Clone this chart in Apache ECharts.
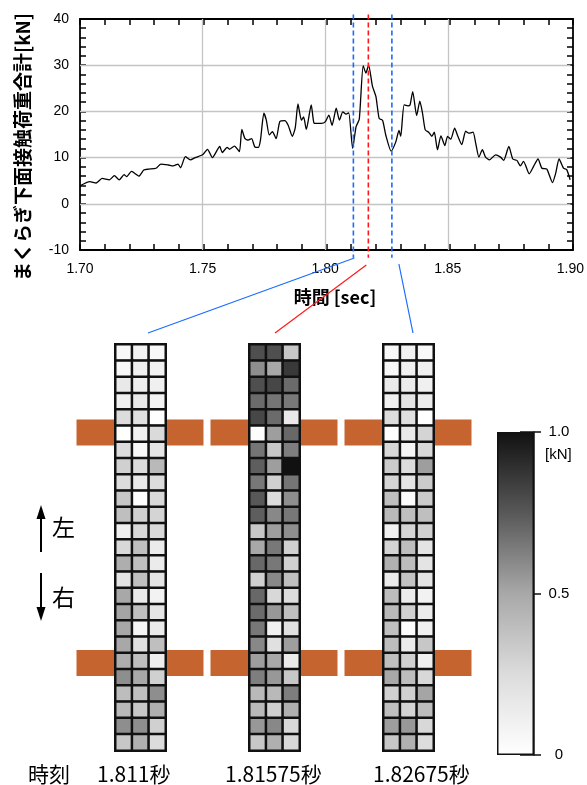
<!DOCTYPE html>
<html>
<head>
<meta charset="utf-8">
<script src="https://cdn.jsdelivr.net/npm/echarts@6/dist/echarts.min.js"></script>
<style>
  html, body { margin: 0; padding: 0; background: #fff; }
  .layer { position: absolute; left: 0; top: 0; width: 587px; height: 785px; }
</style>
</head>
<body>
<div id="heat" class="layer"></div>
<div id="main" class="layer"></div>
<script>
// 荷重合計の時刻歴 [sec, kN]
const times = [
  1.700, 1.704, 1.7066, 1.709, 1.712, 1.714, 1.716, 1.718, 1.719, 1.721,
  1.724, 1.726, 1.728, 1.731, 1.733, 1.736, 1.738, 1.740, 1.741, 1.743,
  1.745, 1.747, 1.750, 1.752, 1.754, 1.757, 1.758, 1.760, 1.761, 1.763,
  1.765, 1.766, 1.7673, 1.7686, 1.770, 1.7713, 1.7727, 1.7736, 1.775, 1.776,
  1.7772, 1.7785, 1.780, 1.7815, 1.7835, 1.7849, 1.7866, 1.7878, 1.7889, 1.7903,
  1.7912, 1.7923, 1.7943, 1.7954, 1.7966, 1.7984, 1.8001, 1.8015, 1.8028, 1.8045,
  1.8058, 1.8072, 1.8085, 1.8096, 1.8112, 1.8126, 1.8139, 1.8155, 1.8166, 1.8177,
  1.8193, 1.8207, 1.822, 1.8234, 1.8247, 1.8269, 1.8288, 1.8301, 1.8308, 1.8322,
  1.8338, 1.8346, 1.8357, 1.8373, 1.8386, 1.8397, 1.8408, 1.8422, 1.8435, 1.8445,
  1.8458, 1.8472, 1.8488, 1.8499, 1.8512, 1.8528, 1.8539, 1.8557, 1.8573, 1.8586,
  1.8603, 1.8614, 1.8627, 1.8641, 1.8654, 1.867, 1.8695, 1.8715, 1.8728, 1.8749,
  1.8765, 1.8782, 1.8796, 1.8809, 1.8832, 1.885, 1.8868, 1.8884, 1.8904, 1.8927,
  1.894, 1.8954, 1.8972, 1.8985, 1.8999
]
const loads = [
  3.9, 4.8, 4.5, 5.5, 5.2, 6.1, 5.2, 6.3, 5.9, 7.0,
  6.0, 7.3, 7.5, 7.7, 8.6, 8.4, 8.2, 8.6, 7.8, 10.2,
  9.5, 10.0, 10.6, 11.8, 10.0, 12.4, 11.1, 12.2, 11.8, 12.5,
  11.3, 16.1, 14.1, 13.8, 14.1, 12.3, 12.2, 13.8, 19.6, 18.1,
  14.9, 15.6, 14.1, 17.8, 18.0, 17.0, 14.6, 16.5, 21.6, 18.1,
  18.8, 16.1, 21.4, 17.5, 17.4, 17.4, 17.8, 19.2, 17.0, 20.7,
  18.1, 19.9, 19.4, 19.7, 12.0, 16.7, 18.3, 29.9, 28.3, 30.0,
  25.4, 23.2, 18.5, 18.1, 14.9, 11.4, 13.4, 15.9, 14.6, 21.4,
  21.2, 21.4, 24.3, 19.1, 22.2, 19.6, 16.0, 15.5, 14.6, 15.5,
  11.7, 14.7, 12.6, 14.6, 14.0, 16.4, 14.9, 12.8, 15.7, 15.3,
  15.5, 13.1, 10.1, 11.7, 10.1, 9.5, 10.6, 10.1, 9.4, 12.4,
  9.7, 9.4, 8.2, 9.2, 6.5, 8.1, 9.7, 7.7, 7.5, 4.6,
  6.6, 9.7, 7.7, 7.4, 5.2
]
// 破線の位置（図上の位置）
const markTimes = [1.8115, 1.8176, 1.8272]
const markColors = ['#1a6cff', '#ff1a1a', '#1a6cff']
// 内側のグリッド線
const xGrid = [1.75, 1.80, 1.85]
const yGrid = [0, 10, 20, 30]

// 各まくらぎの接触荷重分布 [kN]（上→下 25行 × 3列）
const h1 = [
  [0.05, 0.09, 0.05], [0.05, 0.11, 0.09], [0.16, 0.12, 0.11], [0.11, 0.16, 0.08], [0.25, 0.22, 0.00],
  [0.00, 0.11, 0.26], [0.25, 0.05, 0.19], [0.31, 0.25, 0.42], [0.25, 0.16, 0.25], [0.35, 0.01, 0.27],
  [0.39, 0.31, 0.29], [0.11, 0.27, 0.27], [0.27, 0.39, 0.14], [0.47, 0.39, 0.14], [0.19, 0.39, 0.19],
  [0.50, 0.16, 0.09], [0.51, 0.39, 0.18], [0.50, 0.08, 0.14], [0.50, 0.22, 0.39], [0.47, 0.39, 0.12],
  [0.58, 0.50, 0.31], [0.40, 0.39, 0.58], [0.42, 0.35, 0.47], [0.58, 0.58, 0.31], [0.35, 0.46, 0.25]
]
const h2 = [
  [0.78, 0.78, 0.35], [0.58, 0.50, 0.86], [0.78, 0.81, 0.69], [0.69, 0.66, 0.65], [0.81, 0.69, 0.16],
  [0.02, 0.53, 0.70], [0.66, 0.35, 0.63], [0.73, 0.53, 1.00], [0.65, 0.31, 0.66], [0.75, 0.25, 0.58],
  [0.73, 0.60, 0.65], [0.35, 0.53, 0.58], [0.50, 0.65, 0.31], [0.70, 0.65, 0.31], [0.31, 0.60, 0.39],
  [0.70, 0.27, 0.25], [0.69, 0.55, 0.39], [0.65, 0.11, 0.22], [0.60, 0.22, 0.53], [0.53, 0.50, 0.14],
  [0.63, 0.55, 0.35], [0.42, 0.42, 0.63], [0.42, 0.31, 0.46], [0.55, 0.60, 0.27], [0.35, 0.46, 0.27]
]
const h3 = [
  [0.05, 0.09, 0.05], [0.05, 0.11, 0.11], [0.16, 0.14, 0.11], [0.11, 0.19, 0.14], [0.25, 0.22, 0.00],
  [0.00, 0.16, 0.29], [0.27, 0.08, 0.27], [0.33, 0.25, 0.53], [0.29, 0.19, 0.33], [0.39, 0.02, 0.33],
  [0.42, 0.39, 0.39], [0.11, 0.29, 0.31], [0.29, 0.40, 0.19], [0.46, 0.40, 0.19], [0.14, 0.37, 0.19],
  [0.40, 0.14, 0.09], [0.42, 0.31, 0.14], [0.39, 0.02, 0.11], [0.40, 0.14, 0.35], [0.39, 0.31, 0.11],
  [0.50, 0.40, 0.27], [0.31, 0.31, 0.51], [0.39, 0.29, 0.40], [0.53, 0.55, 0.27], [0.35, 0.46, 0.25]
]
const heatLabels = ['1.811秒', '1.81575秒', '1.82675秒']
// カラーバー 0 → 1.0
const grayStops = ['#ffffff', '#dcdcdc', '#a8a8a8', '#585858', '#111111']

const cols = ['a', 'b', 'c']
const rows = h1.map((_, i) => String(i + 1))
const toCells = m => m.flatMap((r, i) => r.map((v, j) => [j, i, v]))

const heatLeft = [115.5, 249.5, 383.5]
const heatW = 50, heatTop = 344.5, heatH = 406
const railColor = '#c66430'
const jp = '"Noto Sans CJK JP", sans-serif'
const num = '"Liberation Sans", Arial, sans-serif'
const lineGrid = { left: 80, top: 19, width: 493, height: 231 }

// ---------- 下層：ヒートマップ＋カラーバー＋上段グラフの枠と目盛り ----------
const heat = echarts.init(document.getElementById('heat'))
const hGrids = heatLeft.map(l => ({ left: l, top: heatTop, width: heatW, height: heatH }))
hGrids.push({ left: 497, top: 432, width: 37, height: 323 })
hGrids.push({ ...lineGrid })
const hX = heatLeft.map((_, k) => ({ type: 'category', gridIndex: k, data: cols, show: false }))
const hY = heatLeft.map((_, k) => ({ type: 'category', gridIndex: k, data: rows, inverse: true, show: false }))
hX.push({ type: 'category', gridIndex: 3, data: ['bar'], show: false })
hY.push({
  type: 'value', gridIndex: 3, min: 0, max: 1, interval: 0.5, position: 'right',
  axisLine: { show: true, lineStyle: { color: '#111', width: 1.5 } },
  axisTick: { show: true, inside: false, length: 7, lineStyle: { color: '#111', width: 1.5 } },
  axisLabel: {
    formatter: v => v === 1 ? '1.0' : (v === 0 ? '0' : '0.5'),
    fontSize: 15, color: '#000', fontFamily: num, align: 'center', margin: 25,
  },
  splitLine: { show: false },
})
hY.push({
  type: 'value', gridIndex: 3, min: 0, max: 1, interval: 0.5, position: 'right',
  axisLine: { show: false },
  axisTick: { show: true, inside: true, length: 14, lineStyle: { color: '#111', width: 1.5 } },
  axisLabel: { show: false },
  splitLine: { show: false },
})
// 上段グラフの枠：目盛り間隔 0.01 / 2 の軸を四辺に
const frameX = pos => ({
  type: 'value', gridIndex: 4, min: 1.7, max: 1.9, interval: 0.01, position: pos,
  axisLine: { show: true, onZero: false, lineStyle: { color: '#000', width: 1.8 } },
  axisTick: { show: true, inside: true, length: 6, lineStyle: { color: '#000', width: 1.5 } },
  axisLabel: { show: false }, splitLine: { show: false },
})
const frameY = pos => ({
  type: 'value', gridIndex: 4, min: -10, max: 40, interval: 2, position: pos,
  axisLine: { show: true, onZero: false, lineStyle: { color: '#000', width: 1.8 } },
  axisTick: { show: true, inside: true, length: 6, lineStyle: { color: '#000', width: 1.5 } },
  axisLabel: { show: false }, splitLine: { show: false },
})
hX.push(frameX('bottom'), frameX('top'))
hY.push(frameY('left'), frameY('right'))

const hSeries = [h1, h2, h3].map((m, k) => ({
  type: 'heatmap', xAxisIndex: k, yAxisIndex: k,
  data: toCells(m),
  itemStyle: { borderColor: '#111', borderWidth: 2.5 },
  emphasis: { disabled: true },
}))
hSeries.push({
  type: 'bar', xAxisIndex: 3, yAxisIndex: 3, data: [1], barWidth: '100%', silent: true,
  itemStyle: {
    color: new echarts.graphic.LinearGradient(0, 0, 0, 1,
      grayStops.slice().reverse().map((c, i) => ({ offset: i / (grayStops.length - 1), color: c }))),
    borderColor: '#111', borderWidth: 1.5,
  },
})
// 枠用の軸を有効にするための空の系列
hSeries.push({ type: 'line', xAxisIndex: 4, yAxisIndex: 5, data: [], silent: true })
hSeries.push({ type: 'line', xAxisIndex: 5, yAxisIndex: 6, data: [], silent: true })

const railRects = []
heatLeft.forEach(l => {
  ;[419.5, 650].forEach(y => {
    railRects.push({ type: 'rect', shape: { x: l - 39, y: y, width: 39, height: 26 }, style: { fill: railColor }, z: 0 })
    railRects.push({ type: 'rect', shape: { x: l + heatW, y: y, width: 38, height: 26 }, style: { fill: railColor }, z: 0 })
  })
})
heat.setOption({
  animation: false,
  backgroundColor: '#fff',
  grid: hGrids, xAxis: hX, yAxis: hY,
  visualMap: { show: false, type: 'continuous', min: 0, max: 1, seriesIndex: [0, 1, 2], inRange: { color: grayStops } },
  series: hSeries,
  graphic: railRects,
})

// ---------- 上層：荷重合計の時刻歴 ----------
const chart = echarts.init(document.getElementById('main'))
const gridLine = () => ({ color: '#c4c4c4', width: 1.3, type: 'solid' })
chart.setOption({
  animation: false,
  grid: [{ ...lineGrid }],
  xAxis: [{
    type: 'value', min: 1.7, max: 1.9, interval: 0.05,
    axisLine: { show: false }, axisTick: { show: false },
    axisLabel: { formatter: v => v.toFixed(2), fontSize: 14, color: '#000', fontFamily: num, margin: 12 },
    splitLine: { show: false },
  }],
  yAxis: [{
    type: 'value', min: -10, max: 40, interval: 10,
    axisLine: { show: false }, axisTick: { show: false },
    axisLabel: { fontSize: 14, color: '#000', fontFamily: num, margin: 11 },
    splitLine: { show: false },
  }],
  series: [{
    type: 'line', showSymbol: false, smooth: 0.2, z: 3,
    data: times.map((t, i) => [t, loads[i]]),
    lineStyle: { color: '#000', width: 1.3 },
    markLine: {
      silent: true, symbol: ['none', 'none'], label: { show: false }, z: 1,
      data: [
        ...xGrid.map(t => ({ xAxis: t, lineStyle: gridLine() })),
        ...yGrid.map(v => ({ yAxis: v, lineStyle: gridLine() })),
      ],
    },
  }],
})

const px = t => chart.convertToPixel({ xAxisIndex: 0 }, t)
const py = v => chart.convertToPixel({ yAxisIndex: 0 }, v)

// 時刻の破線（枠より少しはみ出す）
const dashTop = py(41)
const dashBottom = py(-11.7)
const dashX = markTimes.map(px)
const dashes = dashX.map((x, i) => ({
  type: 'line', z: 25, shape: { x1: x, y1: dashTop, x2: x, y2: dashBottom },
  style: { stroke: markColors[i], lineWidth: 1.6, lineDash: [5, 3] },
}))
const connectors = [
  { from: [dashX[0] + 1, 258], to: [148, 333] },
  { from: [dashX[1] - 2, 265], to: [275, 333] },
  { from: [dashX[2] + 7, 264], to: [413, 333] },
].map((c, i) => ({
  type: 'line', z: 5, shape: { x1: c.from[0], y1: c.from[1], x2: c.to[0], y2: c.to[1] },
  style: { stroke: markColors[i], lineWidth: 1.2 },
}))
const txt = (x, y, text, font) => ({ type: 'text', x, y,
  style: { text, font, fill: '#000', align: 'left', verticalAlign: 'middle' } })
const texts = [
  { type: 'text', x: 23, y: 147, rotation: Math.PI / 2,
    style: { text: 'まくらぎ下面接触荷重合計[kN]', font: 'bold 19px ' + jp, fill: '#000', align: 'center', verticalAlign: 'middle' } },
  { type: 'text', x: 335, y: 297,
    style: { text: '時間 [sec]', font: 'bold 18px ' + jp, fill: '#000', align: 'center', verticalAlign: 'middle' } },
  txt(545, 455, '[kN]', '15px ' + num),
  txt(52, 527, '左', '23px ' + jp),
  txt(52, 597, '右', '23px ' + jp),
  { type: 'line', shape: { x1: 41, y1: 517, x2: 41, y2: 552 }, style: { stroke: '#000', lineWidth: 2 } },
  { type: 'polygon', shape: { points: [[41, 505], [36.5, 519], [45.5, 519]] }, style: { fill: '#000' } },
  { type: 'line', shape: { x1: 41, y1: 573, x2: 41, y2: 609 }, style: { stroke: '#000', lineWidth: 2 } },
  { type: 'polygon', shape: { points: [[41, 621], [36.5, 607], [45.5, 607]] }, style: { fill: '#000' } },
  txt(28, 774, '時刻', '21px ' + jp),
  txt(97, 774, heatLabels[0], '21px ' + jp),
  txt(225, 774, heatLabels[1], '21px ' + jp),
  txt(373, 774, heatLabels[2], '21px ' + jp),
]
chart.setOption({ graphic: [...dashes, ...connectors, ...texts] })
</script>
</body>
</html>
